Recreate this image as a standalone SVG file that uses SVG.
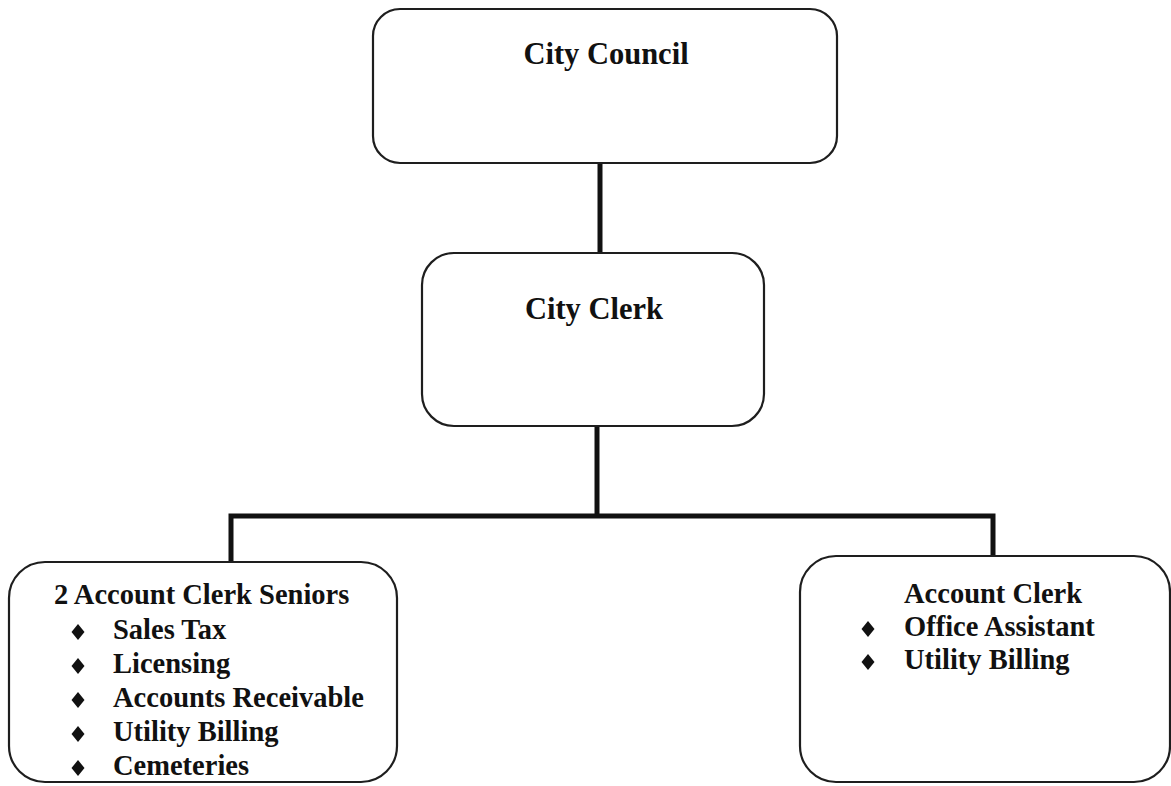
<svg xmlns="http://www.w3.org/2000/svg" width="1171" height="786" viewBox="0 0 1171 786">
  <style>
    .box { fill: #ffffff; stroke: #1e1e1e; stroke-width: 2.2; }
    .link { fill: none; stroke: #111111; stroke-width: 5; stroke-linejoin: miter; }
    .title { font-family: "Liberation Serif", "Times New Roman", serif; font-weight: bold; font-size: 30.5px; fill: #111111; text-anchor: middle; }
    .item { font-family: "Liberation Serif", "Times New Roman", serif; font-weight: bold; font-size: 28.5px; fill: #111111; }
  </style>
  <defs>
    <polygon id="bullet" points="0,-8 6.5,0 0,8 -6.5,0" fill="#111111"/>
  </defs>
  <rect width="1171" height="786" fill="#ffffff"/>

  <!-- reporting lines -->
  <g id="connectors">
    <path class="link" d="M600,163 V253"/>
    <path class="link" d="M597,426 V516"/>
    <path class="link" d="M231,562 V516 H993 V556"/>
  </g>

  <g id="city-council">
    <rect class="box" x="373" y="9" width="464" height="154" rx="27" ry="27"/>
    <text class="title" x="606" y="64">City Council</text>
  </g>

  <g id="city-clerk">
    <rect class="box" x="422" y="253" width="342" height="173" rx="32" ry="32"/>
    <text class="title" x="594" y="319">City Clerk</text>
  </g>

  <g id="account-clerk-seniors">
    <rect class="box" x="9" y="562" width="388" height="220" rx="36" ry="36"/>
    <text class="item" x="54" y="604">2 Account Clerk Seniors</text>
    <use href="#bullet" x="78" y="632"/>
    <text class="item" x="113" y="639">Sales Tax</text>
    <use href="#bullet" x="78" y="666"/>
    <text class="item" x="113" y="673">Licensing</text>
    <use href="#bullet" x="78" y="700"/>
    <text class="item" x="113" y="707">Accounts Receivable</text>
    <use href="#bullet" x="78" y="734"/>
    <text class="item" x="113" y="741">Utility Billing</text>
    <use href="#bullet" x="78" y="768"/>
    <text class="item" x="113" y="775">Cemeteries</text>
  </g>

  <g id="account-clerk">
    <rect class="box" x="800" y="556" width="370" height="226" rx="36" ry="36"/>
    <text class="item" x="904" y="603">Account Clerk</text>
    <use href="#bullet" x="868" y="629"/>
    <text class="item" x="904" y="636">Office Assistant</text>
    <use href="#bullet" x="868" y="662"/>
    <text class="item" x="904" y="669">Utility Billing</text>
  </g>
</svg>
